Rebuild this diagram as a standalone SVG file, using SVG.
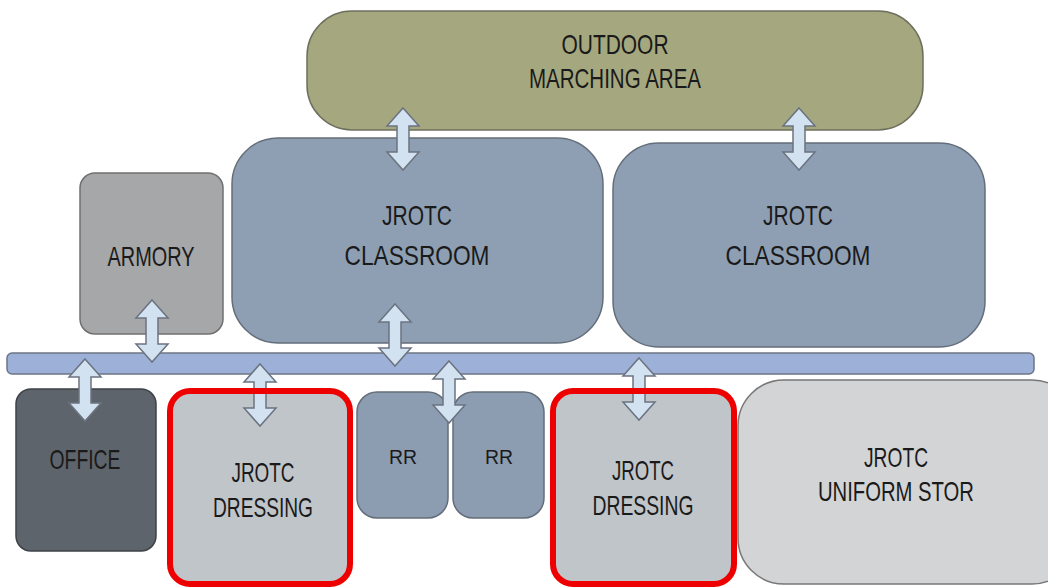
<svg xmlns="http://www.w3.org/2000/svg" xmlns:xlink="http://www.w3.org/1999/xlink" width="1048" height="588" viewBox="0 0 1048 588">
<style>
text{font-family:"Liberation Sans",Arial,sans-serif;font-size:28px;fill:#1a1a1a;text-anchor:middle}
.sm{font-size:20px}
.room{stroke-width:1.5}
.hl{fill:none;stroke:#ee0000;stroke-width:6}
.arr{fill:#d3e2f1;stroke:#6c7380;stroke-width:1.5;stroke-linejoin:miter}
</style>
<defs>
<path id="dbl" class="arr" d="M0,-31 L16,-13 L6,-13 L6,13 L16,13 L0,31 L-16,13 L-6,13 L-6,-13 L-16,-13 Z"/>
</defs>
<rect width="1048" height="588" fill="#ffffff"/>
<g id="marching">
<rect class="room" x="307" y="11" width="616" height="119" rx="45" fill="#a5a87e" stroke="#6f6f5f"/>
<text x="615" y="54" textLength="107" lengthAdjust="spacingAndGlyphs">OUTDOOR</text>
<text x="615" y="88" textLength="172" lengthAdjust="spacingAndGlyphs">MARCHING AREA</text>
</g>
<g id="classroom1">
<rect class="room" x="232" y="138" width="371" height="205" rx="46" fill="#8e9fb4" stroke="#646e7a"/>
<text x="417" y="225" textLength="70" lengthAdjust="spacingAndGlyphs">JROTC</text>
<text x="417" y="265" textLength="145" lengthAdjust="spacingAndGlyphs">CLASSROOM</text>
</g>
<g id="classroom2">
<rect class="room" x="613" y="143" width="372" height="204" rx="46" fill="#8e9fb4" stroke="#646e7a"/>
<text x="798" y="225" textLength="70" lengthAdjust="spacingAndGlyphs">JROTC</text>
<text x="798" y="265" textLength="145" lengthAdjust="spacingAndGlyphs">CLASSROOM</text>
</g>
<g id="armory">
<rect class="room" x="80" y="173" width="143" height="161" rx="15" fill="#a6a7a9" stroke="#707070"/>
<text x="151" y="266" textLength="87" lengthAdjust="spacingAndGlyphs">ARMORY</text>
</g>
<g id="corridor">
<rect class="room" x="7" y="353" width="1027" height="21" rx="5" fill="#9db0d8" stroke="#6c7585"/>
</g>
<g id="office">
<rect class="room" x="16" y="389" width="140" height="162" rx="15" fill="#5e646b" stroke="#3e4247"/>
<text x="85" y="469" textLength="71" lengthAdjust="spacingAndGlyphs">OFFICE</text>
</g>
<g id="dressing1">
<rect x="170" y="391" width="180" height="193" rx="20" fill="#c0c5c9"/>
<text x="263" y="482" textLength="63" lengthAdjust="spacingAndGlyphs">JROTC</text>
<text x="263" y="517" textLength="100" lengthAdjust="spacingAndGlyphs">DRESSING</text>
</g>
<g id="rr1">
<rect class="room" x="357" y="392" width="91" height="126" rx="20" fill="#8c9db2" stroke="#646e7a"/>
<text class="sm" x="403" y="464" textLength="28" lengthAdjust="spacingAndGlyphs">RR</text>
</g>
<g id="rr2">
<rect class="room" x="453" y="392" width="91" height="126" rx="20" fill="#8c9db2" stroke="#646e7a"/>
<text class="sm" x="499" y="464" textLength="28" lengthAdjust="spacingAndGlyphs">RR</text>
</g>
<g id="dressing2">
<rect x="553" y="391" width="181" height="193" rx="20" fill="#c0c5c9"/>
<text x="643" y="480" textLength="62" lengthAdjust="spacingAndGlyphs">JROTC</text>
<text x="643" y="515" textLength="101" lengthAdjust="spacingAndGlyphs">DRESSING</text>
</g>
<g id="uniform">
<rect class="room" x="738" y="380" width="340" height="204" rx="46" fill="#d3d4d6" stroke="#777777"/>
<text x="896" y="467" textLength="64" lengthAdjust="spacingAndGlyphs">JROTC</text>
<text x="896" y="501" textLength="156" lengthAdjust="spacingAndGlyphs">UNIFORM STOR</text>
</g>
<g id="connectors">
<use xlink:href="#dbl" x="403" y="139"/>
<use xlink:href="#dbl" x="799" y="139"/>
<use xlink:href="#dbl" x="152" y="331"/>
<use xlink:href="#dbl" x="395" y="335"/>
<use xlink:href="#dbl" x="85" y="390"/>
<use xlink:href="#dbl" x="260" y="395"/>
<use xlink:href="#dbl" x="449" y="392"/>
<use xlink:href="#dbl" x="639" y="389"/>
</g>
<g id="highlights">
<rect class="hl" x="170" y="391" width="180" height="193" rx="20"/>
<rect class="hl" x="553" y="391" width="181" height="193" rx="20"/>
</g>
</svg>
